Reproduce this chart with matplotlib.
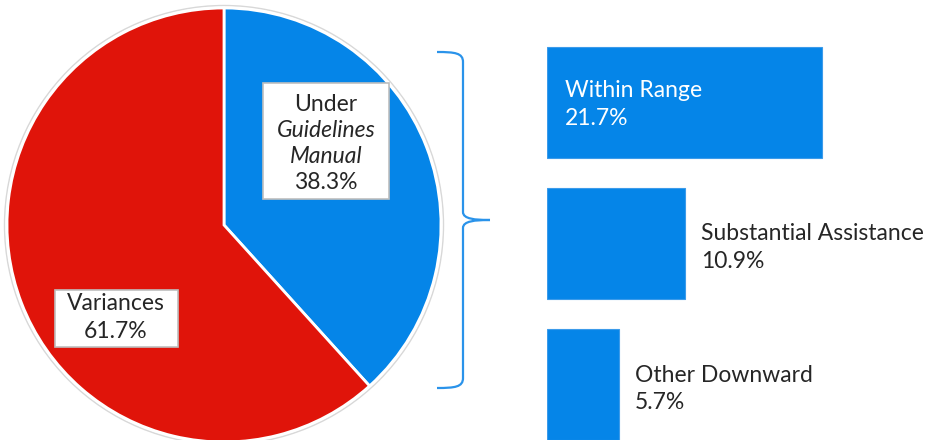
import numpy as np
import matplotlib
matplotlib.use('Agg')
from matplotlib import pyplot as plt
from matplotlib.patches import Rectangle, Circle, PathPatch
from matplotlib.path import Path

plt.rcParams['font.family'] = ['Lato', 'DejaVu Sans']

# pie data
pie_labels = ['Under Guidelines Manual', 'Variances']
pie_values = [38.3, 61.7]

# breakdown of the "under guidelines" share
bar_labels = ['Within Range', 'Substantial Assistance', 'Other Downward']
bar_values = [21.7, 10.9, 5.7]

BLUE = '#0585E8'
RED = '#E0140A'
DARK = '#262626'
FS = 16.5

W, H = 926, 440
fig = plt.figure(figsize=(W/100., H/100.), dpi=100)

# whole-figure axes in pixel units (y up)
ax = fig.add_axes([0, 0, 1, 1])
cx, cy, r = 224, H-225, 217
ax.add_patch(Circle((cx, cy), r+2.5, facecolor='none', edgecolor='#D8D8D8', lw=1))
ax.pie(pie_values, colors=[BLUE, RED], startangle=90, counterclock=False,
       center=(cx, cy), radius=r, frame=True,
       wedgeprops=dict(edgecolor='white', linewidth=2))
ax.set_xlim(0, W)
ax.set_ylim(0, H)
ax.set_aspect('equal')
ax.axis('off')

# label boxes on the pie
ax.add_patch(Rectangle((263, H-199), 126, 116, facecolor='white', edgecolor='#BFBFBF', lw=1.2, zorder=5))
ax.text(326, H-104, 'Under', ha='center', va='center', fontsize=FS, color=DARK, zorder=6)
ax.text(326, H-130, 'Guidelines', ha='center', va='center', fontsize=FS, color=DARK, style='italic', zorder=6)
ax.text(326, H-156, 'Manual', ha='center', va='center', fontsize=FS, color=DARK, style='italic', zorder=6)
ax.text(326, H-182, '%.1f%%' % pie_values[0], ha='center', va='center', fontsize=FS, color=DARK, zorder=6)

ax.add_patch(Rectangle((55, H-347), 123, 57, facecolor='white', edgecolor='#BFBFBF', lw=1.2, zorder=5))
ax.text(116, H-304, pie_labels[1], ha='center', va='center', fontsize=FS, color=DARK, zorder=6)
ax.text(116, H-331, '%.1f%%' % pie_values[1], ha='center', va='center', fontsize=FS, color=DARK, zorder=6)

# curly brace
verts = [(437, H-52),
         (455, H-52), (463, H-53), (463, H-62),
         (463, H-212),
         (463, H-219), (475, H-220), (490, H-220),
         (475, H-220), (463, H-221), (463, H-228),
         (463, H-378),
         (463, H-387), (455, H-388), (437, H-388)]
codes = [Path.MOVETO,
         Path.CURVE4, Path.CURVE4, Path.CURVE4,
         Path.LINETO,
         Path.CURVE4, Path.CURVE4, Path.CURVE4,
         Path.CURVE4, Path.CURVE4, Path.CURVE4,
         Path.LINETO,
         Path.CURVE4, Path.CURVE4, Path.CURVE4]
ax.add_patch(PathPatch(Path(verts, codes), facecolor='none', edgecolor='#2A93EA', lw=1.6))

# bars
x0 = 547
bx = fig.add_axes([x0/float(W), 0, (W-x0)/float(W), 1])
bx.set_xlim(0, (W-x0)/12.65)
bx.set_ylim(H, 0)
bx.axis('off')
ypos = [102.5, 243.5, 385]
bx.barh(ypos, bar_values, height=111, left=0, color=BLUE, edgecolor='#3C9BEA', lw=0.8)

for i in range(len(bar_values)):
    txt = '%s\n%.1f%%' % (bar_labels[i], bar_values[i])
    if i == 0:
        bx.text(18/12.65, ypos[i] + 2, txt, ha='left', va='center', fontsize=FS,
                color='white', linespacing=1.4)
    else:
        bx.text(bar_values[i] + 16/12.65, ypos[i] + 4, txt, ha='left', va='center',
                fontsize=FS, color=DARK, linespacing=1.4)

fig.savefig('out.png', dpi=100)
